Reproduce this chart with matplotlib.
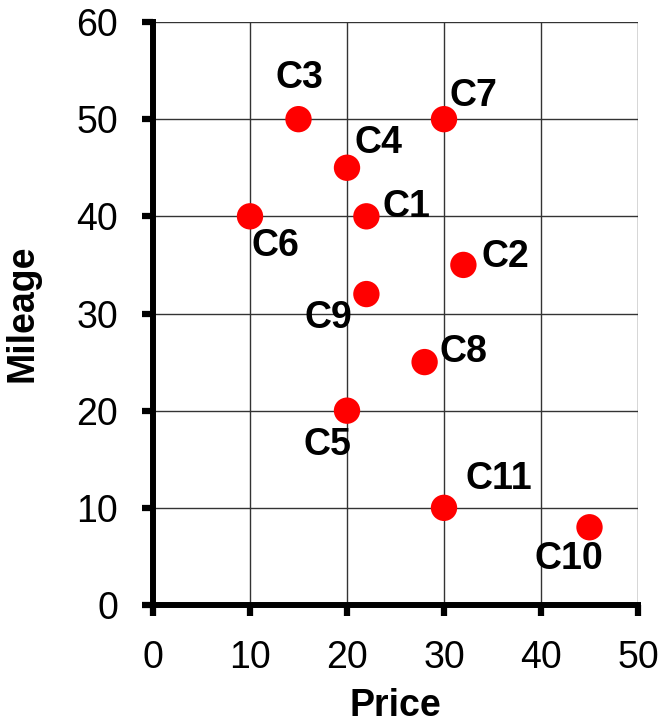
import matplotlib
matplotlib.use("Agg")
import matplotlib.pyplot as plt

names = ["C1", "C2", "C3", "C4", "C5", "C6", "C7", "C8", "C9", "C10", "C11"]
price = [22, 32, 15, 20, 20, 10, 30, 28, 22, 45, 30]
mileage = [40, 35, 50, 45, 20, 40, 50, 25, 32, 8, 10]
x_ticks = [0, 10, 20, 30, 40, 50]
y_ticks = [0, 10, 20, 30, 40, 50, 60]

# label offsets in pixels (dx, dy)
label_offsets = [(40, 9), (42, 8), (1, 41), (32, 25), (-20, -34), (25, -30),
                 (29, 23), (39, 10), (-38, -24), (-21, -32), (55, 29)]

plt.rcParams['font.family'] = ['Liberation Sans', 'DejaVu Sans']

fig = plt.figure(figsize=(6.64, 7.25), dpi=100)
ax = fig.add_axes([153/664, 1-605/725, (638-153)/664, (605-22)/725])

ax.set_xlim(0, 50)
ax.set_ylim(0, 60)
ax.set_xticks(x_ticks)
ax.set_yticks(y_ticks)
ax.grid(True, color='#333333', linewidth=1.0)
ax.set_axisbelow(True)

for s in ['top', 'right']:
    ax.spines[s].set_visible(False)
for s in ['left', 'bottom']:
    ax.spines[s].set_linewidth(4.3)
    ax.spines[s].set_color('black')
    ax.spines[s].set_zorder(5)

ax.tick_params(axis='both', direction='out', length=8, width=4.5,
               labelsize=27, pad=17, color='black')

ax.scatter(price, mileage, s=360, color='#ff0000', edgecolors='none', zorder=6,
           clip_on=False)

for n, xv, yv, (dx, dy) in zip(names, price, mileage, label_offsets):
    ax.annotate(n, (xv, yv), xytext=(dx, dy), textcoords='offset pixels',
                ha='center', va='center', fontsize=27, fontweight='bold', zorder=7)

ax.set_xlabel("Price", fontsize=27, fontweight='bold', labelpad=9)
ax.set_ylabel("Mileage", fontsize=27, fontweight='bold', labelpad=26)

fig.savefig("out.png", dpi=100)
